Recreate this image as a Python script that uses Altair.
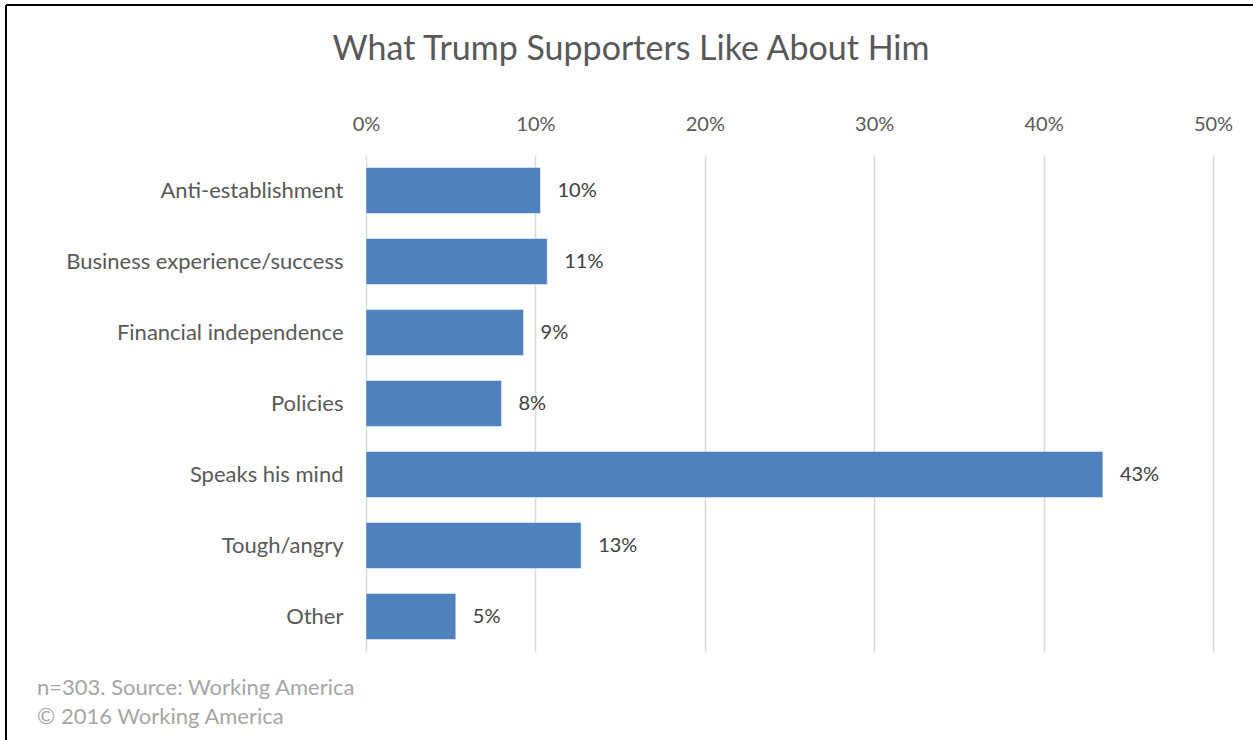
import altair as alt
import pandas as pd

categories = ["Anti-establishment", "Business experience/success", "Financial independence",
              "Policies", "Speaks his mind", "Tough/angry", "Other"]
values = [10.3, 10.7, 9.3, 8.0, 43.5, 12.7, 5.3]
labels = ["10%", "11%", "9%", "8%", "43%", "13%", "5%"]
title_text = "What Trump Supporters Like About Him"
footer_lines = ["n=303. Source: Working America", "© 2016 Working America"]

df = pd.DataFrame({"cat": categories, "val": values, "lab": labels})
FONT = "Lato"
OX, OY = 366, 155  # plot origin in page pixels
W, H = 847, 497

y_enc = alt.Y("cat:N", sort=categories, title=None,
              scale=alt.Scale(paddingInner=0.35, paddingOuter=0.175),
              axis=alt.Axis(labelFont=FONT, labelFontSize=22, labelColor="#595959",
                            labelPadding=23, ticks=False, domain=False, labelLimit=400))
x_enc = alt.X("val:Q", title=None,
              scale=alt.Scale(domain=[0, 50], nice=False),
              axis=alt.Axis(orient="top", values=[0, 10, 20, 30, 40, 50],
                            labelExpr="datum.value + '%'", labelFont=FONT, labelFontSize=20,
                            labelColor="#595959", labelPadding=21, ticks=False, domain=False,
                            labelFlush=False,
                            grid=True, gridColor="#D9D9D9", gridWidth=1.5))

bars = alt.Chart(df).mark_bar(color="#4F81BD", stroke="#FFFFFF", strokeWidth=0.5).encode(x=x_enc, y=y_enc)
text = alt.Chart(df).mark_text(align="left", dx=17, font=FONT, fontSize=20, color="#404040").encode(
    x="val:Q", y=alt.Y("cat:N", sort=categories), text="lab:N")

one = pd.DataFrame({"a": [0]})
title = alt.Chart(pd.DataFrame({"t": [title_text]})).mark_text(
    align="center", baseline="middle", font=FONT, fontSize=34, color="#595959").encode(
    x=alt.value(631 - OX), y=alt.value(50 - OY), text="t:N")

foot1 = alt.Chart(pd.DataFrame({"t": [footer_lines[0]]})).mark_text(
    align="left", baseline="middle", font=FONT, fontSize=22, color="#A6A6A6").encode(
    x=alt.value(37 - OX), y=alt.value(688 - OY), text="t:N")
foot2 = alt.Chart(pd.DataFrame({"t": [footer_lines[1]]})).mark_text(
    align="left", baseline="middle", font=FONT, fontSize=22, color="#A6A6A6").encode(
    x=alt.value(37 - OX), y=alt.value(717 - OY), text="t:N")

frame_top = alt.Chart(one).mark_rule(color="#000000", strokeWidth=2).encode(
    x=alt.value(6 - OX), x2=alt.value(1253 - OX), y=alt.value(5 - OY))
frame_left = alt.Chart(one).mark_rule(color="#000000", strokeWidth=2).encode(
    x=alt.value(6 - OX), y=alt.value(5 - OY), y2=alt.value(740 - OY))

chart = alt.layer(bars, text, title, foot1, foot2, frame_top, frame_left).properties(
    width=W, height=H,
    autosize=alt.AutoSizeParams(type="none"),
    padding={"left": OX, "top": OY, "right": 1253 - OX - W, "bottom": 740 - OY - H},
).configure(background="#FFFFFF").configure_view(stroke="transparent", strokeWidth=0)

chart.save("out.html", embed_options={"renderer": "svg", "actions": False})
